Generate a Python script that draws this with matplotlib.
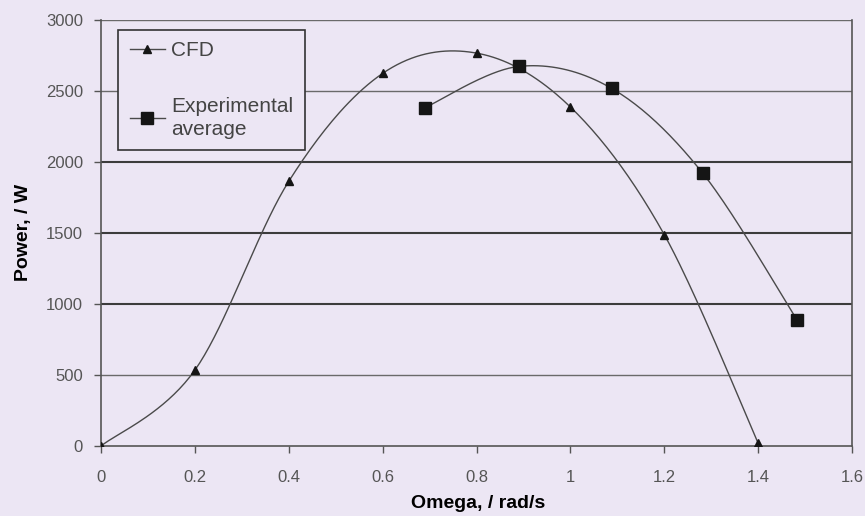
import numpy as np
import matplotlib.pyplot as plt
from matplotlib.lines import Line2D

# power curves
omega_cfd = [0.0, 0.2, 0.4, 0.6, 0.8, 1.0, 1.2, 1.4]
power_cfd = [0, 535, 1866, 2627, 2770, 2390, 1490, 20]

omega_exp = [0.69, 0.89, 1.088, 1.282, 1.483]
power_exp = [2385, 2676, 2521, 1923, 887]

xticks = [0, 0.2, 0.4, 0.6, 0.8, 1, 1.2, 1.4, 1.6]
yticks = [0, 500, 1000, 1500, 2000, 2500, 3000]

bg = '#ece6f4'
ink = '#4a4a4a'


def smooth(xs, ys, n=40):
    # bezier through the points, catmull-rom style control points
    p = np.column_stack([xs, ys]).astype(float)
    p = np.vstack([p[0], p, p[-1]])
    out = []
    for i in range(1, len(p) - 2):
        p0, p1, p2, p3 = p[i - 1], p[i], p[i + 1], p[i + 2]
        b1 = p1 + (p2 - p0) / 6
        b2 = p2 - (p3 - p1) / 6
        t = np.linspace(0, 1, n)[:, None]
        seg = ((1 - t) ** 3 * p1 + 3 * (1 - t) ** 2 * t * b1
               + 3 * (1 - t) * t ** 2 * b2 + t ** 3 * p2)
        out.append(seg if i == 1 else seg[1:])
    out = np.vstack(out)
    return out[:, 0], out[:, 1]


plt.rcParams['font.family'] = ['Liberation Sans', 'DejaVu Sans']

fig = plt.figure(figsize=(8.65, 5.16), dpi=100, facecolor=bg)
ax = fig.add_axes([0.1168, 0.1357, 0.8682, 0.8246])
ax.set_facecolor(bg)

# horizontal grid
for y in yticks[1:]:
    dark = y in (1000, 1500, 2000)
    ax.axhline(y, color='#3c3c3c' if dark else '#6a6a6a',
               lw=1.5 if dark else 1.0, zorder=1)

sx, sy = smooth(omega_cfd, power_cfd)
ax.plot(sx, sy, color=ink, lw=1.0, zorder=2)
ax.plot(omega_cfd, power_cfd, ls='none', marker='^', ms=6,
        color='#151515', zorder=3)

sx, sy = smooth(omega_exp, power_exp)
ax.plot(sx, sy, color=ink, lw=1.0, zorder=2)
ax.plot(omega_exp, power_exp, ls='none', marker='s', ms=9,
        color='#151515', zorder=3)

ax.set_xlim(0, 1.6)
ax.set_ylim(0, 3000)
ax.set_xticks(xticks)
ax.set_xticklabels(['0', '0.2', '0.4', '0.6', '0.8', '1', '1.2', '1.4', '1.6'])
ax.set_yticks(yticks)

for s in ['left', 'bottom', 'right']:
    ax.spines[s].set_color('#555555')
    ax.spines[s].set_linewidth(1.2)
ax.spines['top'].set_visible(False)

ax.tick_params(axis='both', colors='#555555', labelcolor='#555555',
               labelsize=12, length=5, width=1)
ax.tick_params(axis='x', pad=12)
ax.tick_params(axis='y', pad=8)

ax.set_xlabel('Omega, / rad/s', fontsize=14, fontweight='bold')
ax.set_ylabel('Power, / W', fontsize=14, fontweight='bold')
ax.xaxis.set_label_coords(0.502, -0.116)
ax.yaxis.set_label_coords(-0.092, 0.503)

handles = [
    Line2D([], [], color=ink, lw=1.0, marker='^', ms=6,
           markerfacecolor='#151515', markeredgecolor='#151515'),
    Line2D([], [], color=ink, lw=1.0, marker='s', ms=9,
           markerfacecolor='#151515', markeredgecolor='#151515'),
]
leg = ax.legend(handles, ['CFD', 'Experimental\naverage'],
                loc='upper left', bbox_to_anchor=(0.023, 0.978),
                borderaxespad=0, fontsize=15, frameon=True, fancybox=False,
                handlelength=1.7, handletextpad=0.3, labelspacing=1.75,
                borderpad=0.55)
leg.get_frame().set_edgecolor('#333333')
leg.get_frame().set_facecolor(bg)
leg.get_frame().set_alpha(1)
leg.get_frame().set_linewidth(1.2)
for t in leg.get_texts():
    t.set_color('#444444')
    t.set_linespacing(1.25)

fig.savefig('out.png', dpi=100, facecolor=bg)
